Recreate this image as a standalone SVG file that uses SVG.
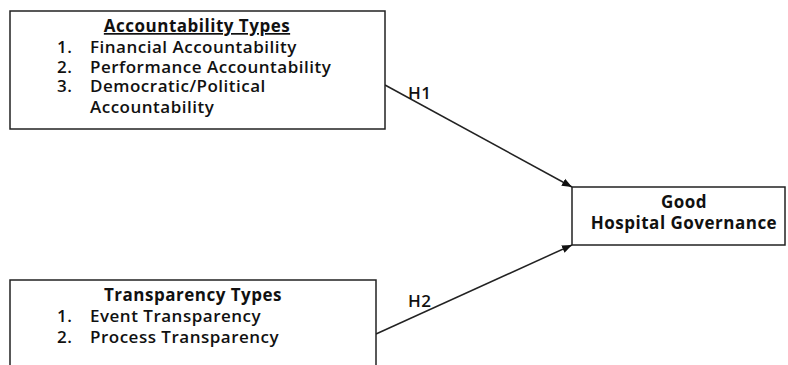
<svg xmlns="http://www.w3.org/2000/svg" width="788" height="365" viewBox="0 0 788 365">
<style>
.box{fill:#fff;stroke:#222;stroke-width:1.5}
.t{font-family:"Open Sans",Lato,"Liberation Sans",sans-serif;font-size:17px;font-weight:600;letter-spacing:0.5px;fill:#111}
.b{font-weight:bold}
.h{text-anchor:middle}
.c{stroke:#222;stroke-width:1.5;fill:none;marker-end:url(#ah)}
</style>
<defs>
<marker id="ah" viewBox="0 0 10 10" refX="10" refY="5" markerWidth="10" markerHeight="10" markerUnits="userSpaceOnUse" orient="auto">
<path d="M0,1 L10,5 L0,9 Z" fill="#111"/>
</marker>
</defs>
<rect width="788" height="365" fill="#fff"/>
<g id="connectors">
<line class="c" x1="385" y1="85" x2="572" y2="187"/>
<line class="c" x1="376" y1="334" x2="572" y2="245"/>
<text class="t" x="408" y="99">H1</text>
<text class="t" x="408" y="307">H2</text>
</g>
<g id="accountability">
<rect class="box" x="10" y="11" width="375" height="118"/>
<text class="t b h" x="197" y="32" text-decoration="underline">Accountability Types</text>
<text class="t" x="57" y="53">1.</text><text class="t" x="90" y="53">Financial Accountability</text>
<text class="t" x="57" y="73">2.</text><text class="t" x="90" y="73">Performance Accountability</text>
<text class="t" x="57" y="92">3.</text><text class="t" x="90" y="92">Democratic/Political</text>
<text class="t" x="90" y="113">Accountability</text>
</g>
<g id="governance">
<rect class="box" x="572" y="187" width="213" height="58"/>
<text class="t b h" x="684" y="208">Good</text>
<text class="t b h" x="684" y="229">Hospital Governance</text>
</g>
<g id="transparency">
<rect class="box" x="10" y="280" width="366" height="100"/>
<text class="t b h" x="193" y="301">Transparency Types</text>
<text class="t" x="57" y="322">1.</text><text class="t" x="90" y="322">Event Transparency</text>
<text class="t" x="57" y="343">2.</text><text class="t" x="90" y="343">Process Transparency</text>
</g>
</svg>
